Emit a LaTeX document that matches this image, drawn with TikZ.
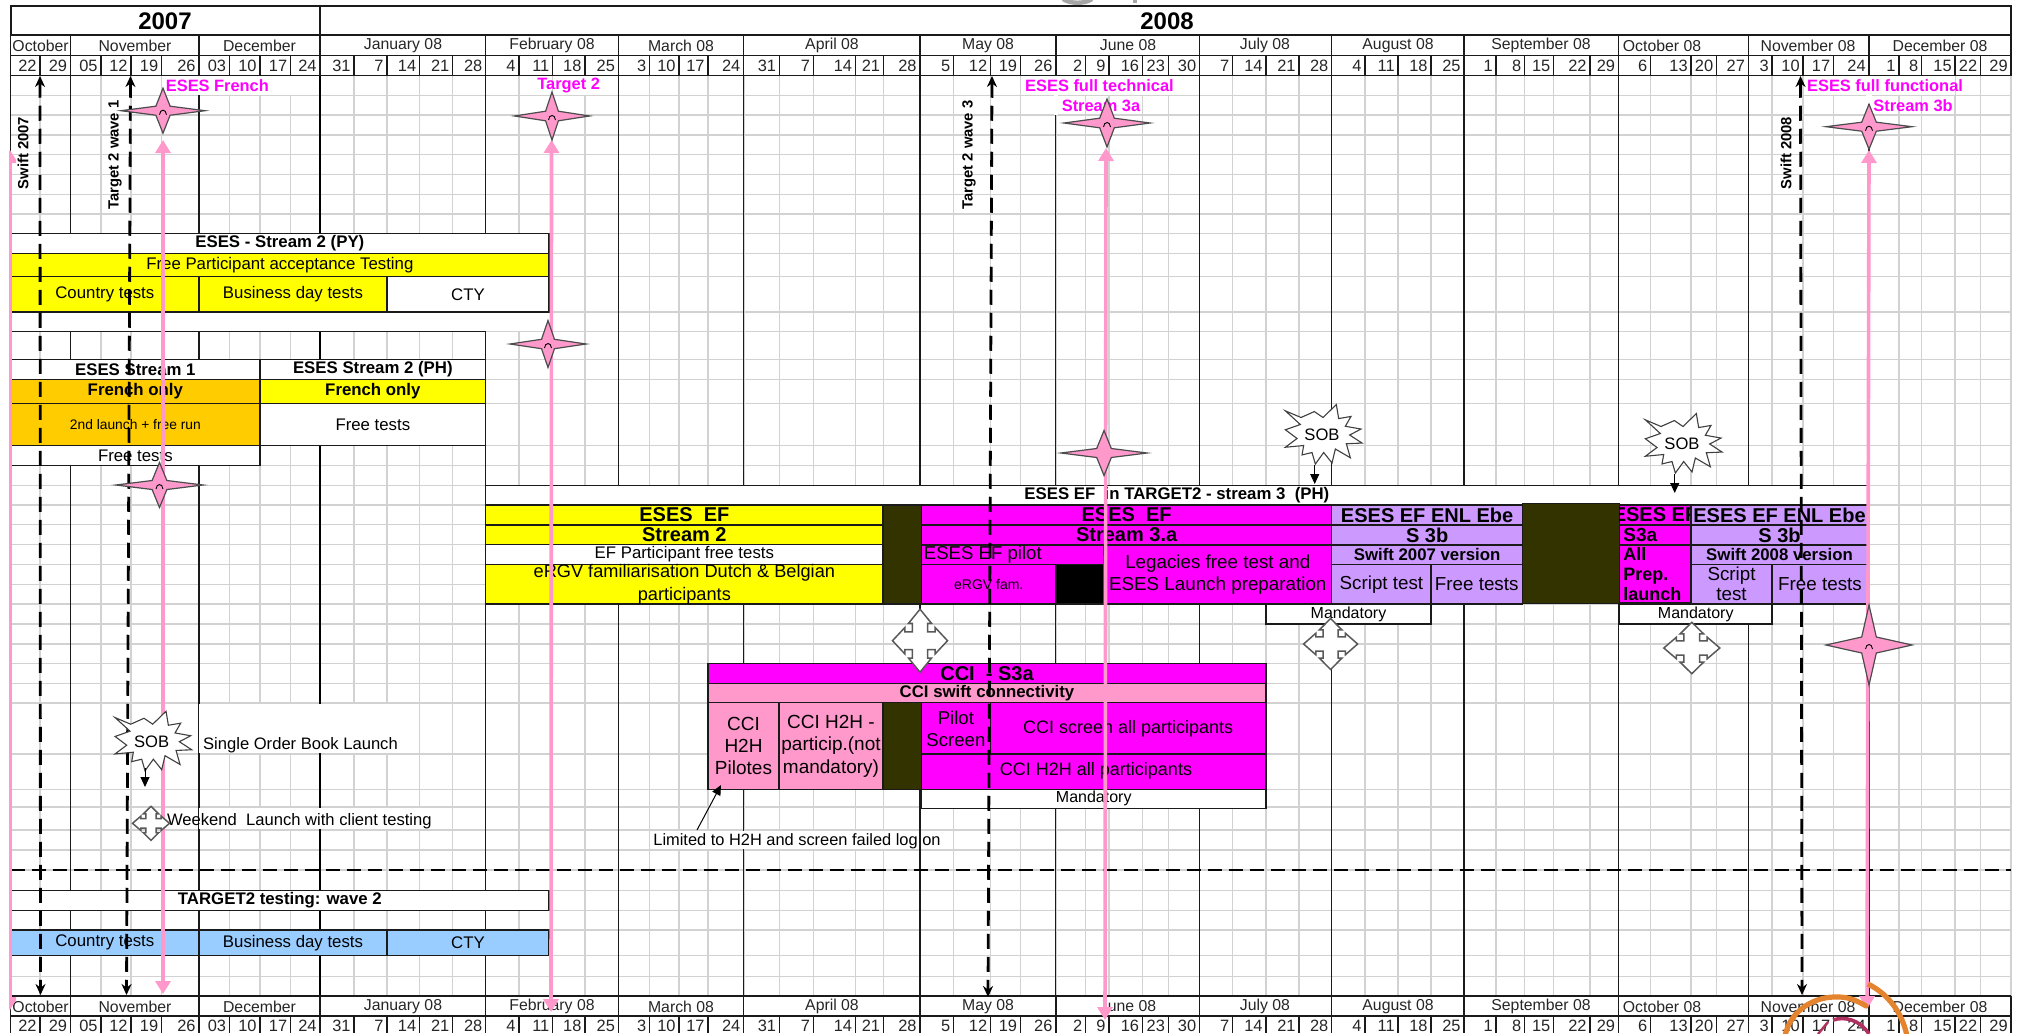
\documentclass[tikz,border=0pt]{standalone}
\usepackage{fontspec}
\setmainfont{Liberation Sans}
\usetikzlibrary{arrows.meta}
\definecolor{gridgray}{HTML}{D2D2D2}
\definecolor{lineblk}{HTML}{1A1A1A}
\definecolor{xyellow}{HTML}{FFFF00}
\definecolor{xorange}{HTML}{FFCC00}
\definecolor{xmag}{HTML}{FF00FF}
\definecolor{xpink}{HTML}{FF99CC}
\definecolor{xpurple}{HTML}{CC99FF}
\definecolor{xblue}{HTML}{99CCFF}
\definecolor{xdark}{HTML}{333300}
\definecolor{xorangearc}{HTML}{E5842E}
\definecolor{xmaroon}{HTML}{B03060}
\tikzset{
 gridv/.style={draw=gridgray,line width=.75pt},
 monthv/.style={draw=lineblk,line width=.65pt},
 yearv/.style={draw=black,line width=1.2pt},
 hdr/.style={draw=lineblk,line width=.7pt},
 cell/.style={draw=lineblk,line width=.6pt},
 daytxt/.style={font=\fontsize{8.2}{9}\selectfont,inner sep=0pt,anchor=east,text=black!85},
 monthtxt/.style={font=\fontsize{7.9}{9}\selectfont,inner sep=0pt,text=black!85},
 yeartxt/.style={font=\fontsize{12}{14}\bfseries\selectfont,inner sep=0pt},
 magtxt/.style={font=\fontsize{8.2}{10}\bfseries\selectfont,text=xmag,inner sep=0pt},
 rottxt/.style={font=\fontsize{7.4}{9}\bfseries\selectfont,rotate=90,inner sep=0pt},
 plain/.style={font=\fontsize{8.3}{10}\selectfont,inner sep=0pt,anchor=west},
 pinkarrow/.style={draw=xpink,line width=1.8pt,{Triangle[length=6.5pt,width=7.5pt]}-{Triangle[length=6.5pt,width=7.5pt]}},
 dasharrow/.style={draw=black,line width=1.4pt,dash pattern=on 7.5pt off 4pt,{Stealth[length=5.5pt,width=5pt]}-{Stealth[length=5.5pt,width=5pt]}},
 sepdash/.style={draw=black,line width=1.2pt,dash pattern=on 7pt off 3.5pt},
 thinarrow/.style={draw=black,line width=.5pt,-{Triangle[length=5pt,width=4.5pt]}},
 starshape/.style={draw=black!70,line width=.6pt,fill=xpink},
 burstshape/.style={draw=black!75,line width=.55pt,fill=white},
 crossshape/.style={draw=black!65,line width=.75pt,fill=white},
 mask/.style={fill=white,draw=none},
}
% \bx{name}{x1}{y1}{x2}{y2}{fill}{size}{text}
\newcommand{\bx}[8]{\draw[cell,fill=#6] (#2,#3) rectangle (#4,#5) node[midway,inner sep=0pt,align=center,font=#7] (#1) {#8};}
\newcommand{\fr}{\fontsize{8.4}{10}\selectfont}
\newcommand{\fb}{\fontsize{8.4}{10}\bfseries\selectfont}
\newcommand{\fB}{\fontsize{10}{11}\bfseries\selectfont}
\newcommand{\fl}{\fontsize{9.4}{11}\selectfont}
\newcommand{\fourstar}[5]{%
 \draw[starshape,shift={(#2,#3)},xscale=#4,yscale=#5] (0,-1) -- (.17,-.2) -- (1,0) -- (.17,.2) -- (0,1) -- (-.17,.2) -- (-1,0) -- (-.17,-.2) -- cycle;
 \coordinate (#1) at (#2,#3);}
\newcommand{\starmark}[1]{\draw[black,line width=.45pt,shift={(#1)}] (-3.5,4) .. controls (-3,-2) and (3,-2) .. (3.5,4);}
\newcommand{\burst}[3]{%
 \draw[burstshape,shift={(#2,#3)},xscale=.3333,yscale=.35] (-110,-69) -- (-63,-50) -- (-23,-67) -- (3,-50) -- (43,-87) -- (50,-47) -- (87,-53) -- (70,-25) -- (117,-17) -- (83,0) -- (120,23) -- (73,25) -- (85,65) -- (40,40) -- (30,80) -- (5,50) -- (-20,83) -- (-30,50) -- (-60,57) -- (-55,30) -- (-110,35) -- (-75,10) -- (-110,-15) -- (-65,-30) -- cycle;
 \node[inner sep=0pt,font=\fontsize{8.3}{10}\selectfont] (#1) at (#2,#3) {SOB};}
\newcommand{\quadarrow}[5]{%
 \draw[crossshape,shift={(#2,#3)},xscale=#4,yscale=#5] (0,-1) -- (.42,-.55) -- (.28,-.55) -- (.28,-.28) -- (.55,-.28) -- (.55,-.42) -- (1,0) -- (.55,.42) -- (.55,.28) -- (.28,.28) -- (.28,.55) -- (.42,.55) -- (0,1) -- (-.42,.55) -- (-.28,.55) -- (-.28,.28) -- (-.55,.28) -- (-.55,.42) -- (-1,0) -- (-.55,-.42) -- (-.55,-.28) -- (-.28,-.28) -- (-.28,-.55) -- (-.42,-.55) -- cycle;
 \coordinate (#1) at (#2,#3);}
\begin{document}
\begin{tikzpicture}[x=.5pt,y=-.5pt]
\clip (0,0) rectangle (2022,1033);
\fill[white] (0,0) rectangle (2022,1033);
% clipped title remnants
\draw[gray!70,line width=2.2pt] (1063,-1) .. controls (1070,4) and (1085,4) .. (1092,-1);
\draw[gray!70,line width=1.6pt] (1135,0) -- (1135,3);
% grid
\foreach \y in {95.3,115,135,154.7,174.3,194.3,214,233.3,253.3,276.7,312,331.7,359.3,379.3,403.3,445.7,465.7,485.3,505,524.7,544.3,564.3,584.3,604,624,644,663.5,683.3,703,754,789.3,807,830,850,870,890.3,910.3,930,955.7,976.7}
  \draw[gridv] (10.7,\y) -- (2011,\y);
\foreach \x in {40,70.5,101,131,161.6,199,229.5,260,290.6,320,354,387,419.6,452.7,485.7,518.8,552.7,584.8,618.3,649.6,679,708,743.75,779.5,813.4,855.4,883.5,920,953.6,990.6,1020.5,1055.8,1085.7,1109,1142.4,1168.3,1199.6,1232.6,1266,1299,1331.7,1364.8,1398,1431,1464,1496,1524.7,1553.7,1589.9,1618.4,1650.6,1691,1716.6,1748.3,1772,1803,1833.6,1869,1898.8,1921.5,1955,1980.5,2011}
  \draw[gridv] (\x,75) -- (\x,996);
\foreach \x in {10.7,70.5,199,485.7,618.3,743.75,920,1055.8,1199.6,1331.7,1464,1618.4,1748.3,1869}
  \draw[monthv] (\x,75) -- (\x,996);
\draw[yearv] (320,75) -- (320,996);
% merged cells in the grid
\fill[mask] (163,76) rectangle (319,95);
\fill[mask] (553,76) rectangle (617,95);
\fill[mask] (1021,76) rectangle (1198,95);
\fill[mask] (1054,95) rectangle (1058,115);
\fill[mask] (1806,76) rectangle (1955,95);
\fill[mask] (1866,95) rectangle (1872,104);
\fill[mask] (198.5,704) rectangle (419,753);
\fill[mask] (198.5,808) rectangle (430,829);
\fill[mask] (650,831) rectangle (918,849);
% headers
\draw[hdr,line width=1pt] (10.7,6) rectangle (2011,35);
\draw[hdr,line width=1pt] (320,6) -- (320,35);
\draw[hdr] (10.7,35) rectangle (2011,75.3);
\draw[hdr] (10.7,55.3) -- (2011,55.3);
\fill[white] (10.7,996) rectangle (2011,1033);
\draw[hdr,line width=1.2pt] (70.5,996) -- (2011,996);
\draw[hdr] (10.7,996) -- (70.5,996);
\draw[hdr] (10.7,1016) -- (2011,1016);
\draw[hdr] (10.7,996) -- (10.7,1033);
\draw[hdr] (2011,996) -- (2011,1033);
\foreach \x in {70.5,199,320,485.7,618.3,743.75,920,1055.8,1199.6,1331.7,1464,1618.4,1748.3,1869}{
  \draw[hdr] (\x,35) -- (\x,55.3);
  \draw[hdr] (\x,996) -- (\x,1016);
}
\node[yeartxt] (y07) at (165,21) {2007};
\node[yeartxt] (y08) at (1167,21) {2008};
\foreach \xc/\t [count=\i] in {40.6/October,135/November,259.5/December,403/January 08,552/February 08,681/March 08,832/April 08,988/May 08,1128/June 08,1265/July 08,1398/August 08,1541/September 08,1662/October 08,1808/November 08,1940/December 08}{
  \node[monthtxt] (mt\i) at (\xc,45.5) {\t};
  \node[monthtxt] (mb\i) at (\xc,1006.5) {\t};
}
\foreach \b/\t [count=\i] in {40/22,70.5/29,101/05,131/12,161.6/19,199/26,229.5/03,260/10,290.6/17,320/24,354/31,387/7,419.6/14,452.7/21,485.7/28,518.8/4,552.7/11,584.8/18,618.3/25,649.6/3,679/10,708/17,743.75/24,779.5/31,813.4/7,855.4/14,883.5/21,920/28,953.6/5,990.6/12,1020.5/19,1055.8/26,1085.7/2,1109/9,1142.4/16,1168.3/23,1199.6/30,1232.6/7,1266/14,1299/21,1331.7/28,1364.8/4,1398/11,1431/18,1464/25,1496/1,1524.7/8,1553.7/15,1589.9/22,1618.4/29,1650.6/6,1691/13,1716.6/20,1748.3/27,1772/3,1803/10,1833.6/17,1869/24,1898.8/1,1921.5/8,1955/15,1980.5/22,2011/29}{
  \draw[hdr] (\b,55.3) -- (\b,75.3);
  \draw[hdr] (\b,1016) -- (\b,1033);
  \node[daytxt] (dt\i) at (\b-3,65.5) {\t};
  \node[daytxt] (db\i) at (\b-3,1026) {\t};
}
% ESES Stream 2 (PY)
\bx{a1}{10.7}{233.3}{549}{253.3}{white}{\fb}{ESES - Stream 2 (PY)}
\bx{a2}{10.7}{253.3}{549}{276.7}{xyellow}{\fr}{Free Participant acceptance Testing}
\bx{a3}{10.7}{276.7}{199}{312}{xyellow}{\fr}{Country tests}
\bx{a4}{199}{276.7}{387}{312}{xyellow}{\fr}{Business day tests}
\bx{a5}{387}{276.7}{549}{312}{white}{\fr}{CTY}
\fill[white] (10.7,312.5) rectangle (549,331);
\draw[cell] (10.7,331.7) -- (485.7,331.7);
\draw[cell] (10.7,312) -- (10.7,331.7);
% French streams
\bx{b1}{10.7}{359.3}{260}{379.3}{white}{\fb}{ESES Stream 1}
\bx{b2}{10.7}{379.3}{260}{403.3}{xorange}{\fb}{French only}
\bx{b3}{10.7}{403.3}{260}{445.7}{xorange}{\fontsize{6.9}{8}\selectfont}{2nd launch + free run}
\bx{b4}{10.7}{445.7}{260}{465.7}{white}{\fr}{Free tests}
\bx{c1}{260}{359.3}{485.7}{379.3}{white}{\fb}{ESES Stream 2 (PH)}
\bx{c2}{260}{379.3}{485.7}{403.3}{xyellow}{\fb}{French only}
\bx{c3}{260}{403.3}{485.7}{445.7}{white}{\fr}{Free tests}
% ESES EF
\bx{d0}{485.7}{485.3}{1868}{505}{white}{\fb}{ESES EF~~in TARGET2 - stream 3~~(PH)}
\bx{d1}{485.7}{505}{883}{525}{xyellow}{\fB}{ESES~~EF}
\bx{d2}{485.7}{525}{883}{544.3}{xyellow}{\fB}{Stream 2}
\bx{d3}{485.7}{544.3}{883}{564.3}{white}{\fr}{EF Participant free tests}
\bx{d4}{485.7}{564.3}{883}{604}{xyellow}{\fontsize{9.1}{11.5}\selectfont}{eRGV familiarisation Dutch \& Belgian\\participants}
\bx{d5}{883}{505}{921.5}{604}{xdark}{\fr}{}
\bx{e1}{921.5}{505}{1331.8}{525}{xmag}{\fB}{ESES~~EF}
\bx{e2}{921.5}{525}{1331.8}{545}{xmag}{\fB}{Stream 3.a}
\draw[cell,fill=xmag] (921.5,545) -- (1103.7,545) -- (1103.7,564.3) -- (921.5,564.3) -- cycle;
\node[anchor=west,inner sep=0pt,font=\fontsize{9.3}{11}\selectfont] (e3) at (923.5,554.5) {ESES EF pilot};
\bx{e4}{921.5}{564.3}{1056}{604}{xmag}{\fontsize{7}{8}\selectfont}{eRGV fam.}
\bx{e5}{1056}{564.3}{1103.7}{604}{black}{\fr}{}
\bx{e6}{1103.7}{545}{1331.8}{604}{xmag}{\fl}{Legacies free test and\\ESES Launch preparation}
\bx{f1}{1331.8}{505}{1522.4}{525}{xpurple}{\fB}{ESES EF ENL Ebe}
\bx{f2}{1331.8}{525}{1522.4}{545}{xpurple}{\fB}{S 3b}
\bx{f3}{1331.8}{545}{1522.4}{564.3}{xpurple}{\fb}{Swift 2007 version}
\bx{f4}{1331.8}{564.3}{1431}{604}{xpurple}{\fl}{Script test}
\bx{f5}{1431}{564.3}{1522.4}{604}{xpurple}{\fl}{Free tests}
\bx{f6}{1522.4}{503.5}{1619.4}{603.5}{xdark}{\fr}{}
\draw[cell,fill=xmag] (1619.4,505) rectangle (1691,525);
\begin{scope}
 \clip (1619.4,505) rectangle (1691,525);
 \node[inner sep=0pt,font=\fB] (g1) at (1655,515) {ESES~EF};
\end{scope}
\draw[cell,fill=xmag] (1619.4,525) rectangle (1691,545);
\node[anchor=west,inner sep=0pt,font=\fontsize{9.5}{11}\bfseries\selectfont] (g2) at (1623,535) {S3a};
\draw[cell,fill=xmag] (1619.4,545) rectangle (1691,603);
\node[anchor=north west,inner sep=0pt,align=left,font=\fontsize{9}{9.9}\bfseries\selectfont] (g3) at (1623,547) {All\\Prep.\\launch};
\bx{h1}{1691}{505}{1868}{525}{xpurple}{\fB}{ESES EF ENL Ebe}
\bx{h2}{1691}{525}{1868}{545}{xpurple}{\fB}{S 3b}
\bx{h3}{1691}{545}{1868}{564.3}{xpurple}{\fb}{Swift 2008 version}
\bx{h4}{1691}{564.3}{1772}{604}{xpurple}{\fontsize{9.4}{10}\selectfont}{Script\\test}
\bx{h5}{1772}{564.3}{1868}{604}{xpurple}{\fl}{Free tests}
\bx{m1}{1266}{604}{1431}{624}{white}{\fontsize{8}{10}\selectfont}{Mandatory}
\bx{m2}{1619.4}{604}{1772}{624}{white}{\fontsize{8}{10}\selectfont}{Mandatory}
% CCI
\bx{k1}{708}{663.3}{1266}{683.3}{xmag}{\fB}{CCI~~-~S3a}
\bx{k2}{708}{683.3}{1266}{702.7}{xpink}{\fb}{CCI swift connectivity}
\bx{k3}{708}{702.7}{779}{789.3}{xpink}{\fontsize{9.5}{11.2}\selectfont}{CCI\\H2H\\Pilotes}
\bx{k4}{779}{702.7}{883}{789.3}{xpink}{\fontsize{9.5}{11.2}\selectfont}{CCI H2H -\\particip.(not\\mandatory)}
\bx{k5}{883}{702.7}{921.5}{789.3}{xdark}{\fr}{}
\bx{k6}{921.5}{702.7}{990.3}{754}{xmag}{\fontsize{9.3}{11}\selectfont}{Pilot\\Screen}
\bx{k7}{990.3}{702.7}{1266}{754}{xmag}{\fontsize{9}{11}\selectfont}{CCI screen all participants}
\draw[cell,fill=xmag] (921.5,754) rectangle (1266,789.3);
\node[inner sep=0pt,font=\fontsize{9}{11}\selectfont] (k8) at (1096,771) {CCI H2H all participants};
\bx{k9}{921.5}{789.3}{1266}{808.3}{white}{\fontsize{8}{10}\selectfont}{Mandatory}
% left notes
\node[plain] (n1) at (202.7,745) {Single Order Book Launch};
\node[plain] (n2) at (166.7,821) {Weekend~~Launch with client testing};
\node[plain,font=\fontsize{8.2}{10}\selectfont] (n3) at (653,841) {Limited to H2H and screen failed log on};
% TARGET2
\bx{t1}{10.7}{890.3}{549}{910.3}{white}{\fb}{TARGET2 testing: wave 2}
\bx{t2}{10.7}{930}{199}{955.7}{xblue}{\fr}{Country tests}
\bx{t3}{199}{930}{387}{955.7}{xblue}{\fr}{Business day tests}
\bx{t4}{387}{930}{549}{955.7}{xblue}{\fr}{CTY}
% labels
\node[magtxt] (l1) at (217.4,86) {ESES French};
\node[magtxt] (l2) at (568.7,86) {Target 2};
\node[magtxt] (l3) at (1099.5,86) {ESES full technical};
\node[magtxt] (l4) at (1101,106) {Stream 3a};
\node[magtxt] (l5) at (1885,86) {ESES full functional};
\node[magtxt] (l6) at (1913,106) {Stream 3b};
\node[rottxt] (r1) at (23,153) {Swift 2007};
\node[rottxt] (r2) at (115,155) {Target 2 wave 1};
\node[rottxt] (r3) at (969,155) {Target 2 wave 3};
\node[rottxt] (r4) at (1786,153) {Swift 2008};
% separator
\coordinate (sepL) at (10.7,870);
\coordinate (sepR) at (2011,870);
\draw[sepdash] (sepL) -- (sepR);
% dashed milestone arrows
\coordinate (da1) at (40,76); \coordinate (da2) at (40.5,995);
\coordinate (db1) at (130.5,76); \coordinate (db2) at (126.5,995);
\coordinate (dc1) at (992,76); \coordinate (dc2) at (988,997);
\coordinate (dd1) at (1800.5,76); \coordinate (dd2) at (1802,995);
\draw[dasharrow] (da1) -- (da2);
\draw[dasharrow] (db1) -- (db2);
\draw[dasharrow] (dc1) -- (dc2);
\draw[dasharrow] (dd1) -- (dd2);
% pink milestone arrows
\coordinate (pa1) at (163,140); \coordinate (pa2) at (163,994);
\coordinate (pb1) at (551.5,140); \coordinate (pb2) at (551,1012);
\coordinate (pc1) at (1106,148); \coordinate (pc2) at (1105,1020);
\coordinate (pd1) at (1869,150); \coordinate (pd2) at (1867,1009);
\coordinate (pe1) at (10,150); \coordinate (pe2) at (10,1010);
\begin{scope}
 \clip (9,140) rectangle (16,1020);
 \draw[pinkarrow] (pe1) -- (pe2);
\end{scope}
\draw[pinkarrow] (pa1) -- (pa2);
\draw[pinkarrow] (pb1) -- (pb2);
\draw[pinkarrow] (pc1) -- (pc2);
\draw[pinkarrow] (pd1) -- (pd2);
% stars
\fourstar{s1}{163}{110.7}{42}{22.5}
\fourstar{s2}{552}{116}{37.5}{24}
\fourstar{s3}{548}{344}{38}{23.5}
\fourstar{s4}{159.5}{485}{43.5}{22.5}
\fourstar{s5}{1107}{123}{43}{24}
\fourstar{s6}{1869}{126.7}{43}{22.5}
\fourstar{s7}{1104}{453}{43}{22.5}
\fourstar{s8}{1869}{645}{43}{40}
\starmark{s1}\starmark{s2}\starmark{s3}\starmark{s4}\starmark{s5}\starmark{s6}\starmark{s8}
% SOB bursts and their arrows
\burst{b1s}{151.7}{741.7}
\burst{b2s}{1322}{435}
\burst{b3s}{1682}{444}
\coordinate (x1a) at (145,768); \coordinate (x1b) at (145,787);
\coordinate (x2a) at (1314.7,465); \coordinate (x2b) at (1314.7,484);
\coordinate (x3a) at (1674.7,474); \coordinate (x3b) at (1674.7,493);
\draw[thinarrow] (x1a) -- (x1b);
\draw[thinarrow] (x2a) -- (x2b);
\draw[thinarrow] (x3a) -- (x3b);
% limited-to arrow
\coordinate (lim1) at (697,830); \coordinate (lim2) at (721,785);
\draw[thinarrow] (lim1) -- (lim2);
% four-way arrows
\quadarrow{q1}{920}{640.7}{27.5}{31.5}
\quadarrow{q2}{1330.6}{644}{27}{25.5}
\quadarrow{q3}{1691.8}{648}{28}{25.7}
\quadarrow{q4}{151}{823.3}{18.5}{17}
% circular mark at bottom right
\draw[xorangearc,line width=2.6pt,line cap=round] (1785,1036) .. controls (1790,1010) and (1815,996) .. (1838,997) .. controls (1848,997) and (1856,1000) .. (1866,1006);
\draw[xorangearc,line width=2.6pt] (1868,984) .. controls (1888,994) and (1902,1012) .. (1907,1036);
\draw[xmaroon,line width=1.8pt] (1833,1020) .. controls (1845,1016) and (1860,1020) .. (1869,1034);
\draw[xmaroon,line width=1.2pt] (1818,1034) -- (1828,1022);
\end{tikzpicture}
\end{document}
